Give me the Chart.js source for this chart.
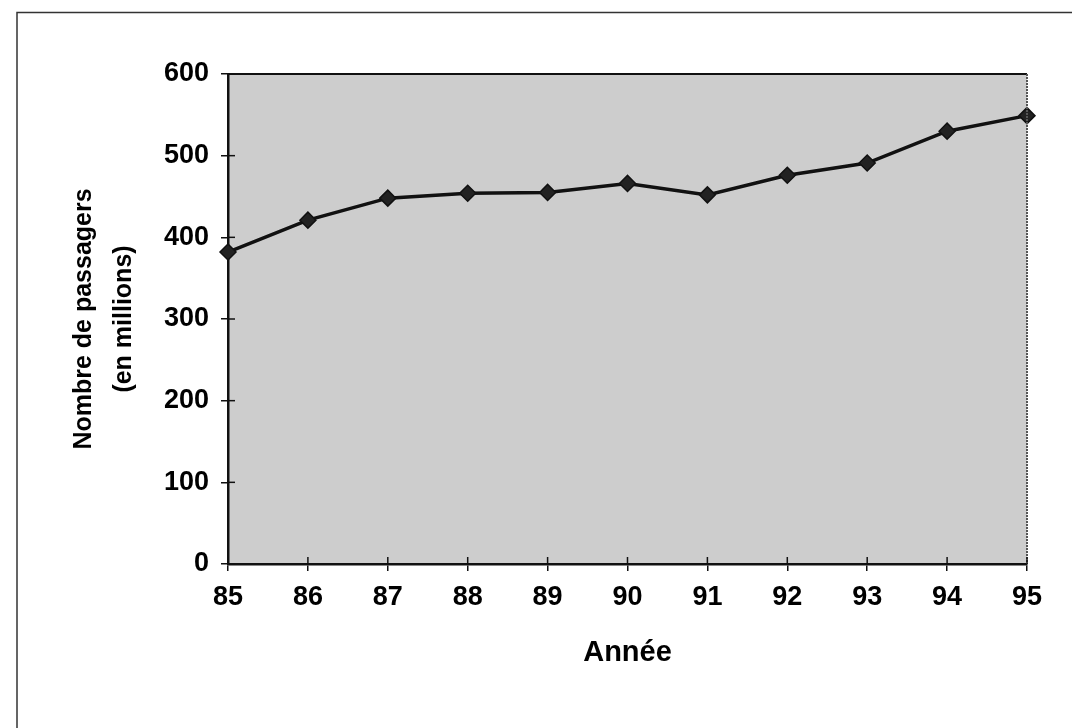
<!DOCTYPE html>
<html>
<head>
<meta charset="utf-8">
<script src="https://cdn.jsdelivr.net/npm/chart.js@4/dist/chart.umd.min.js"></script>
<style>
  html, body { margin: 0; padding: 0; background: #ffffff; }
  #wrap { width: 1072px; height: 728px; position: relative; }
</style>
</head>
<body>
<div id="wrap"><canvas id="c" width="1072" height="728"></canvas></div>
<script>
const years = ['85', '86', '87', '88', '89', '90', '91', '92', '93', '94', '95'];
const passengers = [382, 421, 448, 454, 455, 466, 452, 476, 491, 530, 549];
const yTitle = ['Nombre de passagers', '(en millions)'];
const xTitle = 'Année';

const FONT = '"Liberation Sans", Arial, sans-serif';

const decor = {
  id: 'decor',
  beforeDraw(chart) {
    const ctx = chart.ctx;
    const a = chart.chartArea;
    ctx.save();
    ctx.strokeStyle = '#333333';
    ctx.lineWidth = 1.5;
    ctx.beginPath();
    ctx.moveTo(17, 728);
    ctx.lineTo(17, 12.5);
    ctx.lineTo(1072, 12.5);
    ctx.stroke();
    ctx.fillStyle = '#cdcdcd';
    ctx.fillRect(a.left, a.top, a.right - a.left, a.bottom - a.top);
    ctx.restore();
  },
  afterDraw(chart) {
    const ctx = chart.ctx;
    const a = chart.chartArea;
    ctx.save();
    ctx.strokeStyle = '#111111';
    ctx.lineWidth = 2;
    ctx.beginPath();
    ctx.moveTo(a.left, a.top);
    ctx.lineTo(a.right, a.top);
    ctx.stroke();
    ctx.strokeStyle = '#555555';
    ctx.setLineDash([2, 1]);
    ctx.beginPath();
    ctx.moveTo(a.right, a.top);
    ctx.lineTo(a.right, a.bottom);
    ctx.stroke();
    ctx.setLineDash([]);
    ctx.strokeStyle = '#111111';
    ctx.lineWidth = 1.5;
    const xs = chart.scales.x, ys = chart.scales.y;
    xs.ticks.forEach((t, i) => {
      const px = xs.getPixelForTick(i);
      ctx.beginPath();
      ctx.moveTo(px, a.bottom);
      ctx.lineTo(px, a.bottom - 7);
      ctx.stroke();
    });
    ys.ticks.forEach((t, i) => {
      const py = ys.getPixelForTick(i);
      ctx.beginPath();
      ctx.moveTo(a.left, py);
      ctx.lineTo(a.left + 7, py);
      ctx.stroke();
    });
    ctx.restore();
  }
};

new Chart(document.getElementById('c'), {
  type: 'line',
  data: {
    labels: years,
    datasets: [{
      data: passengers,
      borderColor: '#111111',
      borderWidth: 3.5,
      pointStyle: 'rectRot',
      pointRadius: 8,
      pointBackgroundColor: '#222222',
      pointBorderColor: '#111111',
      pointBorderWidth: 1.5,
      tension: 0,
      fill: false
    }]
  },
  options: {
    responsive: false,
    animation: false,
    devicePixelRatio: 1,
    layout: { padding: { left: 0, right: 45, top: 74, bottom: 0 } },
    plugins: { legend: { display: false }, tooltip: { enabled: false } },
    scales: {
      x: {
        type: 'category',
        offset: false,
        afterFit(s) { s.height = 164; },
        grid: { drawOnChartArea: false, drawTicks: true, tickLength: 7, color: '#111111', lineWidth: 1.5 },
        border: { display: true, color: '#111111', width: 2.5 },
        ticks: { autoSkip: false, maxRotation: 0, padding: 10, color: '#000000',
                 font: { family: FONT, size: 27, weight: 700 } },
        title: { display: true, text: xTitle, color: '#000000',
                 font: { family: FONT, size: 29, weight: 700 },
                 padding: { top: 0, bottom: 58 } }
      },
      y: {
        min: 0, max: 600,
        afterFit(s) { s.width = 228; },
        grid: { drawOnChartArea: false, drawTicks: true, tickLength: 7, color: '#111111', lineWidth: 1.5 },
        border: { display: true, color: '#111111', width: 2.5 },
        ticks: { stepSize: 100, padding: 12, color: '#000000',
                 font: { family: FONT, size: 27, weight: 700 } },
        title: { display: true, text: yTitle, color: '#000000',
                 font: { family: FONT, size: 25, weight: 700, lineHeight: 1.6 },
                 padding: { top: 64, bottom: 0 } }
      }
    }
  },
  plugins: [decor]
});
</script>
</body>
</html>
